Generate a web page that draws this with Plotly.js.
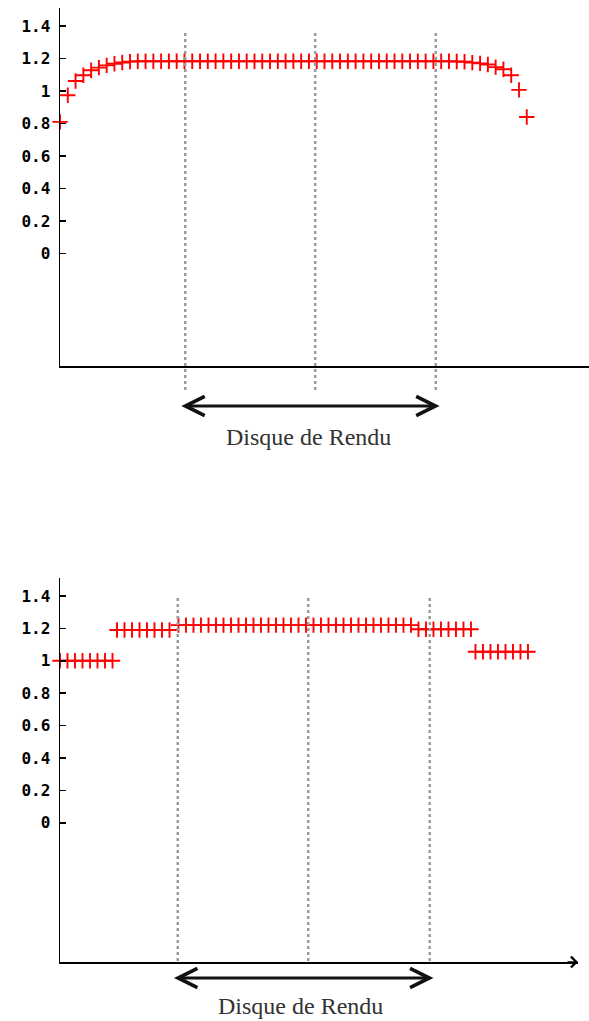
<!DOCTYPE html>
<html>
<head>
<meta charset="utf-8">
<script src="https://cdn.plot.ly/plotly-3.0.1.min.js"></script>
<style>html,body{margin:0;padding:0;background:#fff;}#chart{width:589px;height:1021px;}</style>
</head>
<body>
<div id="chart"></div>
<script>
// ---- Data ----
var TOP_X = [0,1,2,3,4,5,6,7,8,9,10,11,12,13,14,15,16,17,18,19,20,21,22,23,24,25,26,27,28,29,30,
             31,32,33,34,35,36,37,38,39,40,41,42,43,44,45,46,47,48,49,50,51,52,53,54,55,56,57,58,59,60];
var TOP_Y = [0.81,0.974,1.062,1.097,1.128,1.144,1.158,1.168,1.176,1.181,1.183,
             1.183,1.183,1.183,1.183,1.183,1.183,1.183,1.183,1.183,1.183,
             1.183,1.183,1.183,1.183,1.183,1.183,1.183,1.183,1.183,1.183,
             1.183,1.183,1.183,1.183,1.183,1.183,1.183,1.183,1.183,1.183,
             1.183,1.183,1.183,1.183,1.183,1.183,1.183,1.183,1.183,1.183,
             1.182,1.180,1.175,1.170,1.163,1.147,1.134,1.097,1.007,0.84];

var BOT_X1 = [0,1,2,3,4,5,6,7];
var BOT_Y1 = [1.0,1.0,1.0,1.0,1.0,1.0,1.0,1.0];
var BOT_X2 = [7.6,8.6,9.6,10.6,11.6,12.6,13.6,14.6];
var BOT_Y2 = [1.19,1.19,1.19,1.19,1.19,1.19,1.19,1.19];
var BOT_X3 = [15.8,16.8,17.8,18.8,19.8,20.8,21.8,22.8,23.8,24.8,25.8,26.8,27.8,28.8,29.8,30.8,
              31.8,32.8,33.8,34.8,35.8,36.8,37.8,38.8,39.8,40.8,41.8,42.8,43.8,44.8,45.8,46.8];
var BOT_Y3 = [1.22,1.22,1.22,1.22,1.22,1.22,1.22,1.22,1.22,1.22,1.22,1.22,1.22,1.22,1.22,1.22,
              1.22,1.22,1.22,1.22,1.22,1.22,1.22,1.22,1.22,1.22,1.22,1.22,1.22,1.22,1.22,1.22];
var BOT_X4 = [47.8,48.8,49.8,50.8,51.8,52.8,53.8,54.8];
var BOT_Y4 = [1.195,1.195,1.195,1.195,1.195,1.195,1.195,1.195];
var BOT_X5 = [55.4,56.4,57.4,58.4,59.4,60.4,61.4,62.4];
var BOT_Y5 = [1.056,1.056,1.056,1.056,1.056,1.056,1.056,1.056];

var TICK_VALS = [1.4,1.2,1.0,0.8,0.6,0.4,0.2,0];
var TICK_TEXT = ["1.4","1.2","1","0.8","0.6","0.4","0.2","0"];

var TOP_MARKS = [16.1, 32.8, 48.3];
var BOT_MARKS = [15.7, 33.1, 49.3];
var LABEL = "Disque de Rendu";

// ---- Figure ----
var W = 589, H = 1021;
function py(p){ return 1 - p / H; }
var marker = {symbol:'cross-thin', size:11, color:'red', line:{color:'red', width:1.9}};

var traces = [
  {x:TOP_X, y:TOP_Y, xaxis:'x', yaxis:'y', mode:'markers', marker:marker, cliponaxis:false, hoverinfo:'skip'}
];
[[BOT_X1,BOT_Y1],[BOT_X2,BOT_Y2],[BOT_X3,BOT_Y3],[BOT_X4,BOT_Y4],[BOT_X5,BOT_Y5]].forEach(function(g){
  traces.push({x:g[0], y:g[1], xaxis:'x2', yaxis:'y2', mode:'markers', marker:marker, cliponaxis:false, hoverinfo:'skip'});
});

function yax(domain, range){
  return {domain:domain, range:range, tickvals:TICK_VALS, ticktext:TICK_TEXT,
    ticks:'inside', ticklen:6, tickwidth:1.5, tickcolor:'#000',
    showline:true, linecolor:'#000', linewidth:1.5, showgrid:false, zeroline:false,
    ticklabelstandoff:5,
    tickfont:{family:'DejaVu Sans Mono', size:16, weight:'bold', color:'#000'}};
}
function xax(domain, range, anchor){
  return {domain:domain, range:range, anchor:anchor, showline:true, linecolor:'#000', linewidth:1.5,
    showgrid:false, zeroline:false, showticklabels:false, ticks:''};
}

var shapes = [];
TOP_MARKS.forEach(function(m){
  shapes.push({type:'line', xref:'x', yref:'paper', x0:m, x1:m, y0:py(390), y1:py(30),
    line:{color:'#9a9a9a', width:2.5, dash:'dot'}});
});
BOT_MARKS.forEach(function(m){
  shapes.push({type:'line', xref:'x2', yref:'paper', x0:m, x1:m, y0:py(961), y1:py(598),
    line:{color:'#9a9a9a', width:2.5, dash:'dot'}});
});

var annotations = [
  // double arrows
  {xref:'x', yref:'paper', x:TOP_MARKS[2]+0.5, y:py(406), axref:'x', ax:TOP_MARKS[0]-0.7, ayref:'pixel', ay:0,
   text:'', showarrow:true, arrowside:'end+start', arrowhead:5, arrowsize:1.35, arrowwidth:2.8, arrowcolor:'#111'},
  {xref:'x2', yref:'paper', x:BOT_MARKS[2]+0.5, y:py(978), axref:'x2', ax:BOT_MARKS[0]-0.7, ayref:'pixel', ay:0,
   text:'', showarrow:true, arrowside:'end+start', arrowhead:5, arrowsize:1.35, arrowwidth:2.8, arrowcolor:'#111'},
  // labels
  {xref:'paper', yref:'paper', x:308/W, y:py(437), xanchor:'center', yanchor:'middle', text:LABEL, showarrow:false,
   font:{family:'Liberation Serif', size:24, color:'#333'}},
  {xref:'paper', yref:'paper', x:300/W, y:py(1006), xanchor:'center', yanchor:'middle', text:LABEL, showarrow:false,
   font:{family:'Liberation Serif', size:24, color:'#333'}},
  // x-axis arrow tips
  {xref:'paper', yref:'paper', x:578/W, y:py(962), ax:-12, ay:0, text:'', showarrow:true,
   arrowhead:4, arrowsize:1.6, arrowwidth:1.3, arrowcolor:'#000'},
  {xref:'paper', yref:'paper', x:600/W, y:py(366), ax:-12, ay:0, text:'', showarrow:true,
   arrowhead:4, arrowsize:1.6, arrowwidth:1.3, arrowcolor:'#000'}
];

var layout = {
  width:W, height:H, margin:{l:0, r:0, t:0, b:0}, showlegend:false,
  paper_bgcolor:'#fff', plot_bgcolor:'#fff',
  xaxis: xax([60/W, 1], [0, 68], 'y'),
  yaxis: yax([py(366), py(8)], [-0.692, 1.511]),
  xaxis2: xax([60/W, 578/W], [0, 69.07], 'y2'),
  yaxis2: yax([py(962), py(578)], [-0.859, 1.511]),
  shapes:shapes, annotations:annotations
};
layout.yaxis.anchor = 'x';
layout.yaxis2.anchor = 'x2';

Plotly.newPlot('chart', traces, layout, {staticPlot:true, displayModeBar:false});
</script>
</body>
</html>
